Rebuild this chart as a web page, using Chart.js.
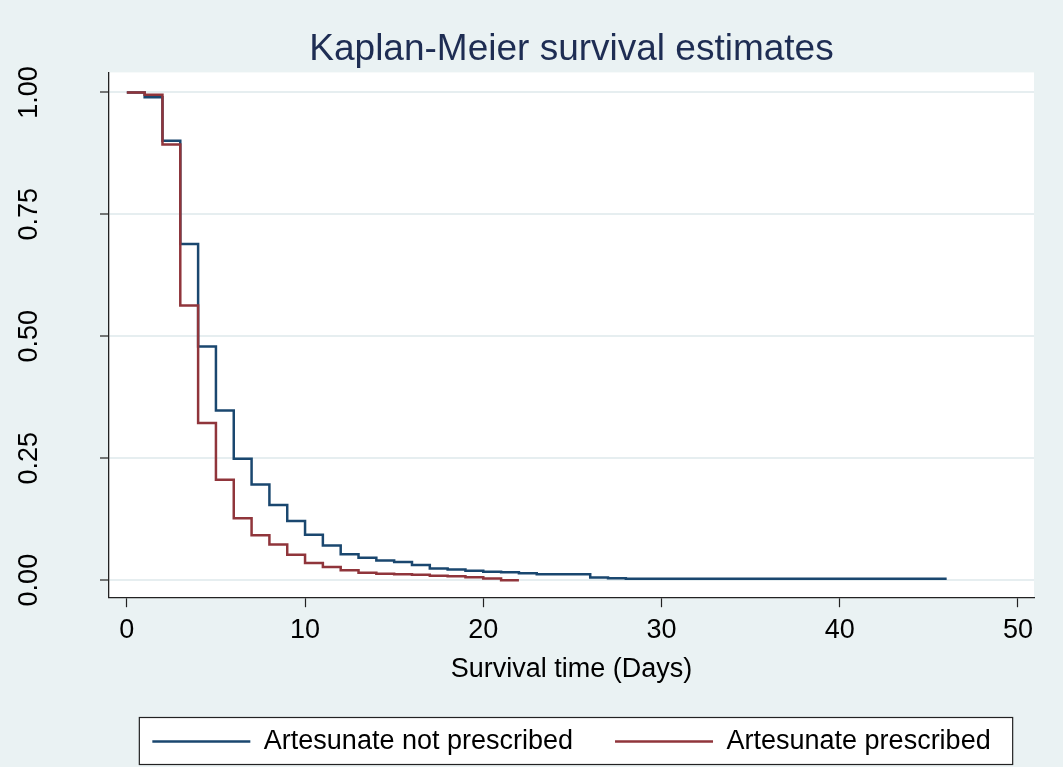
<!DOCTYPE html>
<html>
<head>
<meta charset="utf-8">
<script src="https://cdn.jsdelivr.net/npm/chart.js@4"></script>
<style>
  html, body { margin: 0; padding: 0; background: #eaf2f3; }
  #wrap { width: 1063px; height: 767px; }
</style>
</head>
<body>
<div id="wrap"><canvas id="kmChart" width="1063" height="767"></canvas></div>
<script>
// survival estimates
const notPrescribedDays = [0, 1, 2, 3, 4, 5, 6, 7, 8, 9, 10, 11, 12, 13, 14, 15, 16, 17, 18, 19, 20, 21, 22, 23, 26, 27, 28, 46];
const notPrescribedSurv = [1.0, 0.990, 0.901, 0.689, 0.479, 0.348, 0.249, 0.196, 0.154, 0.121, 0.093, 0.071, 0.053, 0.046, 0.040, 0.037, 0.031, 0.024, 0.022, 0.019, 0.017, 0.016, 0.014, 0.012, 0.0055, 0.004, 0.003, 0.003];

const prescribedDays = [0, 1, 2, 3, 4, 5, 6, 7, 8, 9, 10, 11, 12, 13, 14, 15, 16, 17, 18, 19, 20, 21, 22];
const prescribedSurv = [1.0, 0.995, 0.893, 0.563, 0.322, 0.206, 0.127, 0.092, 0.073, 0.052, 0.035, 0.027, 0.020, 0.015, 0.013, 0.012, 0.011, 0.009, 0.008, 0.006, 0.0035, 0.0, 0.0];

const xTicks = [0, 10, 20, 30, 40, 50];
const yTicks = [0, 0.25, 0.5, 0.75, 1];

const seriesNames = ["Artesunate not prescribed", "Artesunate prescribed"];

const BG = "#eaf2f3";
const FONT = "'Liberation Sans', Arial, sans-serif";

function toPoints(days, surv) {
  return days.map((d, i) => ({ x: d, y: surv[i] }));
}

// backgrounds + legend frame (stata style)
const backdrop = {
  id: "backdrop",
  beforeDraw(chart) {
    const ctx = chart.ctx;
    const a = chart.chartArea;
    ctx.save();
    ctx.fillStyle = BG;
    ctx.fillRect(0, 0, chart.width, chart.height);
    ctx.fillStyle = "#ffffff";
    ctx.fillRect(a.left, a.top, a.right - a.left, a.bottom - a.top);

    const boxes = chart.legend.legendHitBoxes;
    if (boxes && boxes.length) {
      const first = boxes[0];
      const last = boxes[boxes.length - 1];
      const mid = first.top + first.height / 2;
      const l = first.left - 13;
      const r = last.left + last.width + 22;
      const t = mid - 24;
      const b = mid + 23;
      ctx.fillStyle = "#ffffff";
      ctx.fillRect(l, t, r - l, b - t);
      ctx.strokeStyle = "#222";
      ctx.lineWidth = 1.2;
      ctx.strokeRect(l, t, r - l, b - t);
    }
    ctx.restore();
  },
};

const ctx = document.getElementById("kmChart").getContext("2d");
new Chart(ctx, {
  type: "line",
  data: {
    datasets: [
      {
        label: seriesNames[0],
        data: toPoints(notPrescribedDays, notPrescribedSurv),
        borderColor: "#1a476f",
        backgroundColor: "#1a476f",
        borderWidth: 2.5,
        stepped: "before",
        pointRadius: 0,
        order: 1,
      },
      {
        label: seriesNames[1],
        data: toPoints(prescribedDays, prescribedSurv),
        borderColor: "#90353b",
        backgroundColor: "#90353b",
        borderWidth: 2.5,
        stepped: "before",
        pointRadius: 0,
        order: 0,
      },
    ],
  },
  options: {
    responsive: false,
    animation: false,
    layout: { padding: { left: 0, right: 29, top: 0, bottom: 2 } },
    plugins: {
      title: {
        display: true,
        text: "Kaplan-Meier survival estimates",
        fullSize: false,
        color: "#1e2d53",
        font: { family: FONT, size: 37, weight: "normal" },
        padding: { top: 28, bottom: 0 },
      },
      legend: {
        position: "bottom",
        fullSize: false,
        labels: {
          color: "#000",
          font: { family: FONT, size: 27 },
          usePointStyle: true,
          pointStyle: "line",
          pointStyleWidth: 98,
          padding: 42,
          sort: (a, b) => a.datasetIndex - b.datasetIndex,
        },
      },
      tooltip: { enabled: false },
    },
    scales: {
      x: {
        type: "linear",
        min: -1,
        max: 50.9,
        afterBuildTicks: (axis) => {
          axis.ticks = xTicks.map((v) => ({ value: v }));
        },
        ticks: {
          color: "#000",
          font: { family: FONT, size: 27 },
          padding: 7,
          maxRotation: 0,
        },
        grid: {
          drawOnChartArea: false,
          tickLength: 10,
          tickColor: "#222",
          tickWidth: 1.2,
        },
        border: { color: "#222", width: 1.3 },
        title: {
          display: true,
          text: "Survival time (Days)",
          color: "#000",
          font: { family: FONT, size: 27 },
          padding: { top: 0, bottom: 0 },
        },
      },
      y: {
        type: "linear",
        min: -0.035,
        max: 1.041,
        afterBuildTicks: (axis) => {
          axis.ticks = yTicks.map((v) => ({ value: v }));
        },
        afterFit: (axis) => {
          axis.width = 109;
        },
        ticks: {
          color: "#000",
          font: { family: FONT, size: 27 },
          minRotation: 90,
          maxRotation: 90,
          crossAlign: "center",
          padding: 44,
          callback: (v) => Number(v).toFixed(2),
        },
        grid: {
          color: "#e6eef0",
          lineWidth: 2,
          tickLength: 9,
          tickColor: "#222",
          tickWidth: 1.2,
        },
        border: { color: "#222", width: 1.3 },
      },
    },
  },
  plugins: [backdrop],
});
</script>
</body>
</html>
